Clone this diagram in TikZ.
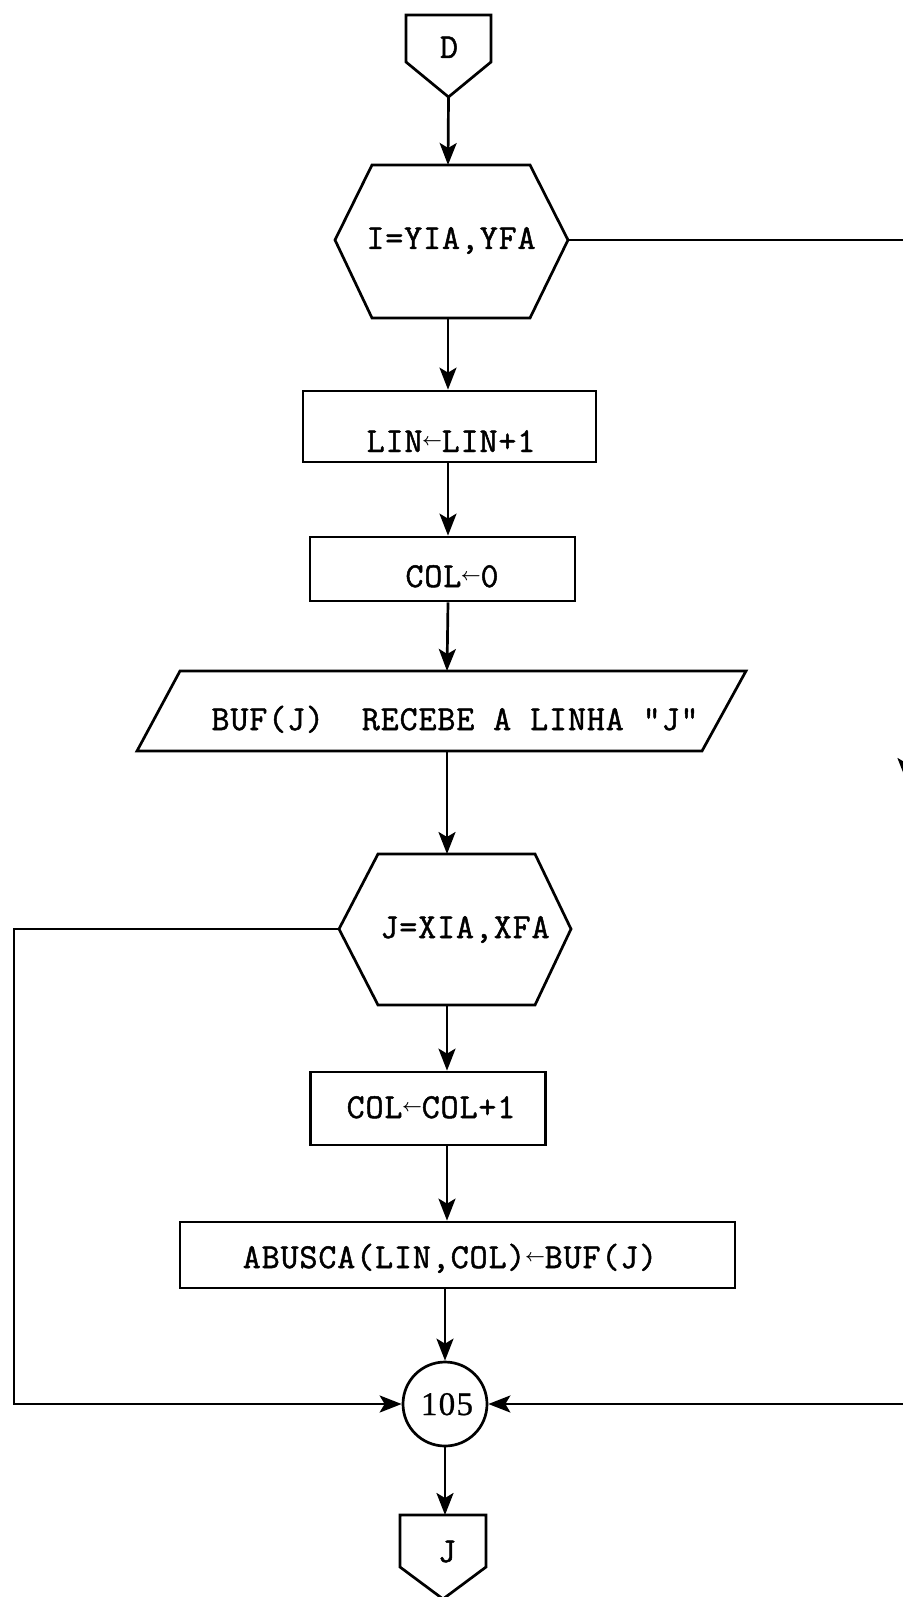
\documentclass[tikz,border=0pt]{standalone}
\usepackage{fontspec}
\newfontfamily\typew[FakeBold=1.4,LetterSpace=2.5]{Latin Modern Mono}
\newfontfamily\numfont[FakeBold=0.8,LetterSpace=4]{Liberation Serif}
\usetikzlibrary{arrows.meta}
% small assignment arrow occupying one typewriter cell
\newcommand{\assign}{\makebox[0.55em]{\raisebox{6.5pt}{\fontsize{18}{18}\selectfont\boldmath$\leftarrow$}}}
\begin{document}
\begin{tikzpicture}[x=1pt,y=-1pt,line width=2.7pt,line join=miter,
  flow/.style={-{Stealth[length=22pt,width=17pt,inset=5pt]}},
  tiponly/.style={-{Stealth[length=22pt,width=17pt,inset=5pt]}},
  box/.style={draw,rectangle,inner sep=0pt},
  lbl/.style={font=\typew\fontsize{35}{40}\selectfont,inner sep=0pt,anchor=base},
  numlbl/.style={font=\numfont\fontsize{33}{36}\selectfont,inner sep=0pt,anchor=base}]
\useasboundingbox (0,0) rectangle (902,1597);

% entry connector D
\draw (406,15) -- (491,15) -- (491,62) -- (448.5,97) -- (406,62) -- cycle;
\coordinate (dout) at (448.5,97);
\node[lbl] (dlbl) at (449,58) {D};

% outer loop I
\draw (372,165) -- (530,165) -- (568,240) -- (530,318) -- (372,318) -- (335,240) -- cycle;
\coordinate (iin) at (448,165);
\coordinate (iout) at (448,318);
\coordinate (iright) at (568,240);
\node[lbl] (ilbl) at (451,249) {I=YIA,YFA};

% LIN <- LIN+1
\node[box,minimum width=293pt,minimum height=71pt] (lin) at (449.5,426.5) {};
\node[lbl] (linlbl) at (451,452) {LIN\assign LIN+1};

% COL <- 0
\node[box,minimum width=265pt,minimum height=64pt] (col0) at (442.5,569) {};
\node[lbl] (col0lbl) at (452,587) {COL\assign 0};

% input parallelogram
\draw (180,671) -- (746,671) -- (702,751) -- (137,751) -- cycle;
\coordinate (pin) at (447,671);
\coordinate (pout) at (447,751);
\node[lbl] (plbl) at (455,730) {BUF(J)\ \ RECEBE A LINHA "J"};

% inner loop J
\draw (378,854) -- (535,854) -- (571,929) -- (535,1005) -- (378,1005) -- (339,929) -- cycle;
\coordinate (jin) at (447,854);
\coordinate (jout) at (447,1005);
\coordinate (jleft) at (339,929);
\node[lbl] (jlbl) at (465,938) {J=XIA,XFA};

% COL <- COL+1
\node[box,minimum width=235pt,minimum height=73pt] (col1) at (428,1108.5) {};
\node[lbl] (col1lbl) at (431,1118) {COL\assign COL+1};

% ABUSCA(LIN,COL) <- BUF(J)
\node[box,minimum width=555pt,minimum height=66pt] (abus) at (457.5,1255) {};
\node[lbl] (abuslbl) at (450,1268) {ABUSCA(LIN,COL)\assign BUF(J)};

% continuation 105
\node[draw,circle,minimum size=84pt,inner sep=0pt] (c105) at (445,1404) {};
\node[numlbl] (c105lbl) at (447,1415) {105};

% exit connector J
\draw (400,1515) -- (486,1515) -- (486,1567) -- (443,1599) -- (400,1567) -- cycle;
\coordinate (jxin) at (445,1515);
\node[lbl] (jxlbl) at (447,1562) {J};

% routing points of the loop-back lines
\coordinate (lcorner1) at (14,929);
\coordinate (lcorner2) at (14,1404);
\coordinate (rcorner1) at (906,240);
\coordinate (rcorner2) at (906,1404);
\coordinate (rtipA) at (906,752);
\coordinate (rtipB) at (906,780);

% main flow
\draw[flow] (dout) -- (iin);
\draw[flow] (iout) -- (lin.north -| iout);
\draw[flow] (lin.south -| iout) -- (col0.north -| iout);
\draw[flow] (col0.south -| iout) -- (pin);
\draw[flow] (pout) -- (jin);
\draw[flow] (jout) -- (col1.north -| jout);
\draw[flow] (col1.south -| jout) -- (abus.north -| jout);
\draw[flow] (abus.south -| c105) -- (c105.north);
\draw[flow] (c105.south) -- (jxin);

% loop exits to 105
\draw[flow] (jleft) -- (lcorner1) -- (lcorner2) -- (c105.west);
\draw[flow] (iright) -- (rcorner1) -- (rcorner2) -- (c105.east);
\draw[tiponly] (rtipA) -- (rtipB);
\end{tikzpicture}
\end{document}
